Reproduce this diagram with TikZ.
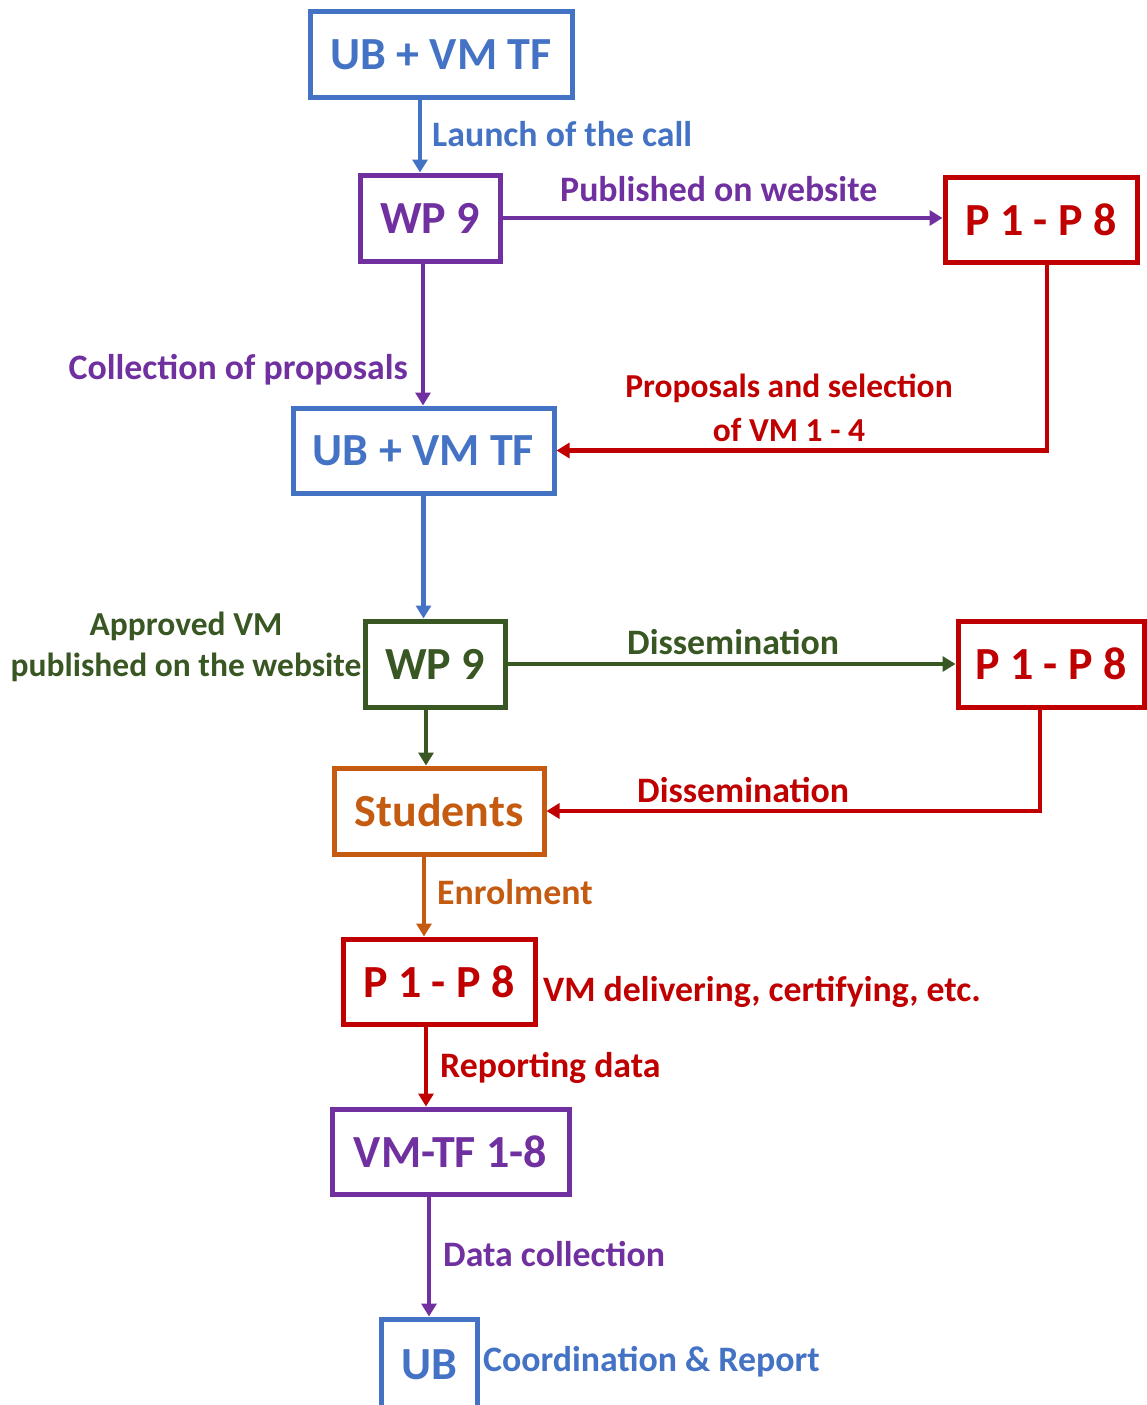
\documentclass[tikz,border=0pt]{standalone}
\usepackage{fontspec}
\setmainfont{Carlito}
\usetikzlibrary{arrows.meta,calc}
\definecolor{cblue}{HTML}{4472C4}
\definecolor{cpurple}{HTML}{7030A0}
\definecolor{cred}{HTML}{C00000}
\definecolor{cgreen}{HTML}{385723}
\definecolor{corange}{HTML}{C55A11}
\tikzset{
  box/.style={draw=#1, text=#1, line width=5pt, inner sep=0pt, font=\fontsize{46}{55}\selectfont\bfseries},
  lbl/.style={text=#1, inner sep=0pt, font=\fontsize{35.8}{42}\selectfont\bfseries},
  slbl/.style={text=#1, inner sep=0pt, font=\fontsize{33.5}{40}\selectfont\bfseries},
  arr/.style={draw=#1, line width=4.5pt, -{Triangle[length=13pt,width=15pt]}},
}
\begin{document}
\begin{tikzpicture}[x=1pt,y=-1pt]
\useasboundingbox (0,0) rectangle (1146,1405);
% boxes
\node[box=cblue, minimum width=262, minimum height=85] (b1) at (441,54.5) {UB + VM TF};
\node[box=cpurple, minimum width=140, minimum height=86] (w1) at (430,218) {WP 9};
\node[box=cred, minimum width=192, minimum height=85] (p1) at (1041,219.5) {P 1 - P 8};
\node[box=cblue, minimum width=261, minimum height=85] (b2) at (423.5,450.5) {UB + VM TF};
\node[box=cgreen, minimum width=140, minimum height=86] (w2) at (435,664) {WP 9};
\node[box=cred, minimum width=186, minimum height=86] (p2) at (1051,664) {P 1 - P 8};
\node[box=corange, minimum width=210, minimum height=86] (st) at (439,811) {Students};
\node[box=cred, minimum width=192, minimum height=85] (p3) at (439,981.5) {P 1 - P 8};
\node[box=cpurple, minimum width=237, minimum height=85] (v1) at (450.5,1151.5) {VM-TF 1-8};
\node[box=cblue, minimum width=96, minimum height=92] (ub) at (429,1365) {UB};
% coordinates
\coordinate (c1) at ([xshift=-21]b1.south);
\coordinate (c2) at ([xshift=-7]w1.south);
\coordinate (c3) at ([xshift=6]p1.south);
\coordinate (c4) at (b2.south);
\coordinate (c5) at ([xshift=-9]w2.south);
\coordinate (c6) at ([xshift=-11]p2.south);
\coordinate (c7) at ([xshift=-15]st.south);
\coordinate (c8) at ([xshift=-13]p3.south);
\coordinate (c9) at ([xshift=-21.5]v1.south);
% connectors
\draw[arr=cblue] (c1) -- (c1 |- w1.north);
\draw[arr=cpurple] (w1.east) -- (w1.east -| p1.west);
\draw[arr=cpurple] (c2) -- (c2 |- b2.north);
\draw[arr=cred] (c3) |- (b2.east);
\draw[arr=cblue] (c4) -- (c4 |- w2.north);
\draw[arr=cgreen] (w2.east) -- (w2.east -| p2.west);
\draw[arr=cgreen] (c5) -- (c5 |- st.north);
\draw[arr=cred] (c6) |- (st.east);
\draw[arr=corange] (c7) -- (c7 |- p3.north);
\draw[arr=cred] (c8) -- (c8 |- v1.north);
\draw[arr=cpurple] (c9) -- (c9 |- ub.north);
% labels
\node[lbl=cblue, anchor=base west] (l1) at (432,146) {Launch of the call};
\node[lbl=cpurple, anchor=base west] (l2) at (560,201) {Published on website};
\node[lbl=cpurple, anchor=base east] (l3) at (408,379) {Collection of proposals};
\node[slbl=cred, anchor=base] (l4) at (789,397) {Proposals and selection};
\node[slbl=cred, anchor=base] (l5) at (789,441) {of VM 1 - 4};
\node[slbl=cgreen, anchor=base] (l6) at (186,635) {Approved VM};
\node[slbl=cgreen, anchor=base] (l7) at (186,676) {published on the website};
\node[lbl=cgreen, anchor=base west] (l8) at (627,654) {Dissemination};
\node[lbl=cred, anchor=base west] (l9) at (637,802) {Dissemination};
\node[lbl=corange, anchor=base west] (l10) at (437,904) {Enrolment};
\node[lbl=cred, anchor=base west] (l11) at (543,1001) {VM delivering, certifying, etc.};
\node[lbl=cred, anchor=base west] (l12) at (440,1077) {Reporting data};
\node[lbl=cpurple, anchor=base west] (l13) at (443,1266) {Data collection};
\node[lbl=cblue, anchor=base west] (l14) at (483,1371) {Coordination \& Report};
\end{tikzpicture}
\end{document}
